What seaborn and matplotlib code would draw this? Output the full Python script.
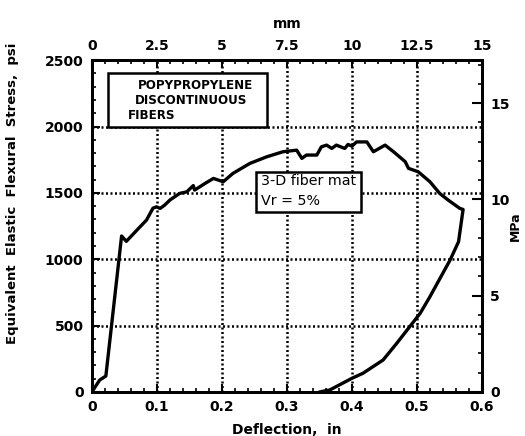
import matplotlib
matplotlib.use("Agg")
import matplotlib.pyplot as plt
import seaborn as sns
import pandas as pd
from matplotlib.ticker import MultipleLocator
from matplotlib.patches import Rectangle

deflection_in = [0, 0.012, 0.0215, 0.0457, 0.053, 0.069, 0.084, 0.094, 0.0995, 0.105,
                 0.112, 0.12, 0.135, 0.146, 0.156, 0.158, 0.166, 0.174, 0.187, 0.202,
                 0.217, 0.243, 0.269, 0.294, 0.315, 0.323, 0.330, 0.346, 0.353, 0.361,
                 0.369, 0.376, 0.389, 0.394, 0.400, 0.407, 0.423, 0.433, 0.451, 0.464,
                 0.482, 0.487, 0.502, 0.520, 0.535, 0.548, 0.566, 0.571,
                 0.564, 0.551, 0.520, 0.505, 0.487, 0.469, 0.448, 0.417, 0.400, 0.366, 0.350]
stress_psi = [0, 90, 120, 1175, 1135, 1218, 1295, 1385, 1395, 1383,
              1408, 1446, 1496, 1508, 1555, 1521, 1546, 1571, 1609, 1584,
              1647, 1722, 1772, 1810, 1822, 1760, 1785, 1785, 1847, 1860,
              1835, 1860, 1835, 1865, 1852, 1884, 1884, 1810, 1860, 1810,
              1735, 1685, 1659, 1584, 1496, 1446, 1383, 1375,
              1132, 994, 718, 593, 480, 367, 241, 141, 103, 15, 0]

x_ticks = [0, 0.1, 0.2, 0.3, 0.4, 0.5, 0.6]
x_labels = ["0", "0.1", "0.2", "0.3", "0.4", "0.5", "0.6"]
y_ticks = [0, 500, 1000, 1500, 2000, 2500]
mm_labels = ["0", "2.5", "5", "7.5", "10", "12.5", "15"]
mpa_ticks = [0, 5, 10, 15]
PSI_PER_MPA = 145.04
box1_lines = ["POPYPROPYLENE", "DISCONTINUOUS", "FIBERS"]
box2_lines = ["3-D fiber mat", "Vr = 5%"]

df = pd.DataFrame({"x": deflection_in, "y": stress_psi})

sns.set_style("ticks")
plt.rcParams['font.family'] = ['DejaVu Sans']
for k in ("text.color", "axes.labelcolor", "xtick.color", "ytick.color", "axes.edgecolor"):
    plt.rcParams[k] = "black"

fig = plt.figure(figsize=(5.25, 4.36), dpi=100)
ax = fig.add_axes([0.175, 0.101, 0.743, 0.761])
ax.set_xlim(0, 0.6)
ax.set_ylim(0, 2500)

dot = (0, (0.8, 1.0))
for gx in x_ticks[1:-1]:
    ax.axvline(gx, color="black", lw=1.8, ls=dot, zorder=1)
for gy in y_ticks[1:-1]:
    ax.axhline(gy, color="black", lw=1.8, ls=dot, zorder=1)

sns.lineplot(data=df, x="x", y="y", sort=False, estimator=None, color="black",
             lw=2.4, ax=ax, zorder=3)

ax.set_xticks(x_ticks)
ax.set_xticklabels(x_labels)
ax.set_yticks(y_ticks)
ax.xaxis.set_minor_locator(MultipleLocator(0.02))
ax.yaxis.set_minor_locator(MultipleLocator(100))
ax.tick_params(axis="both", which="major", direction="in", length=6, width=1.5,
               labelsize=10, pad=6)
ax.tick_params(axis="both", which="minor", direction="in", length=3, width=1.2)
for lab in ax.get_xticklabels() + ax.get_yticklabels():
    lab.set_fontweight("bold")
for s in ax.spines.values():
    s.set_linewidth(2)
    s.set_color("black")

ax.set_xlabel("Deflection,  in", fontsize=10, fontweight="bold", labelpad=6)
ax.set_ylabel("Equivalent  Elastic  Flexural  Stress,  psi", fontsize=9.5,
              fontweight="bold")
ax.yaxis.set_label_coords(-0.187, 0.60)

axt = ax.twiny()
axt.set_xlim(0, 0.6)
axt.set_xticks(x_ticks)
axt.set_xticklabels(mm_labels, fontweight="bold")
axt.xaxis.set_minor_locator(MultipleLocator(0.02))
axt.tick_params(axis="x", which="major", direction="in", length=6, width=1.5,
                labelsize=10, pad=5)
axt.tick_params(axis="x", which="minor", direction="in", length=3, width=1.2)
axt.set_xlabel("mm", fontsize=10, fontweight="bold", labelpad=8)

axr = ax.twinx()
axr.set_ylim(0, 2500 / PSI_PER_MPA)
axr.set_yticks(mpa_ticks)
axr.set_yticklabels([str(t) for t in mpa_ticks], fontweight="bold")
axr.yaxis.set_minor_locator(MultipleLocator(1))
axr.tick_params(axis="y", which="major", direction="in", length=7, width=1.5,
                labelsize=10, pad=6)
axr.tick_params(axis="y", which="minor", direction="in", length=3, width=1.2)
axr.set_ylabel("MPa", fontsize=9, fontweight="bold")
axr.yaxis.set_label_coords(1.068, 0.50)
for a in (axt, axr):
    for s in a.spines.values():
        s.set_linewidth(2)
        s.set_color("black")

# annotation box 1
ax.add_patch(Rectangle((0.0246, 2000), 0.269 - 0.0246, 402, fc="white", ec="black",
                       lw=1.8, zorder=5))
for txt, tx, ty in zip(box1_lines, [0.0708, 0.066, 0.055], [2312, 2199, 2086]):
    ax.text(tx, ty, txt, fontsize=8.6, fontweight="bold", va="center", ha="left", zorder=6)

# annotation box 2
ax.add_patch(Rectangle((0.252, 1355), 0.414 - 0.252, 302, fc="white", ec="black",
                       lw=1.8, zorder=5))
for txt, ty in zip(box2_lines, [1590, 1440]):
    ax.text(0.26, ty, txt, fontsize=10.3, va="center", ha="left", zorder=6)

fig.savefig("out.png", dpi=100)
